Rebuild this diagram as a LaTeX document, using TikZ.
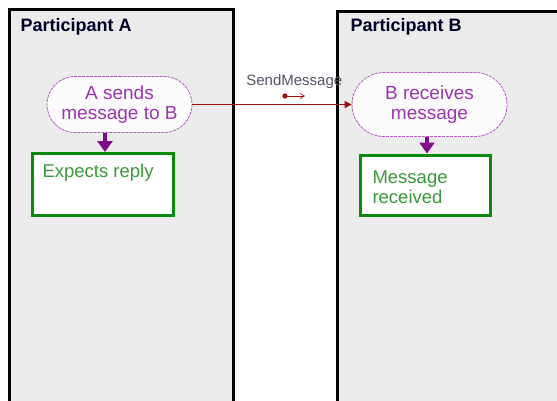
\documentclass[tikz,border=0pt]{standalone}
\usepackage{fontspec}
\setmainfont{Liberation Sans}
\usetikzlibrary{arrows.meta,shapes.misc}
\definecolor{panelfill}{HTML}{EBEBEB}
\definecolor{actborder}{HTML}{B25CC0}
\definecolor{acttext}{HTML}{9B35B0}
\definecolor{boxgreen}{HTML}{0A8A0A}
\definecolor{textgreen}{HTML}{3A9A3A}
\definecolor{flowpurple}{HTML}{7F0A8A}
\definecolor{msgred}{HTML}{991111}
\definecolor{labelgray}{HTML}{555566}
\tikzset{
  panel/.style={draw=black, line width=3pt, fill=panelfill},
  paneltitle/.style={anchor=base west, font=\bfseries\fontsize{18}{20}\selectfont, text=black!85!blue},
  activity/.style={draw=actborder, dashed, dash pattern=on 3pt off 1pt, line width=0.8pt, fill=white!97!gray,
    rounded rectangle, minimum width=#1, minimum height=56pt, inner sep=0pt, align=center,
    text=acttext, font=\fontsize{19}{19.5}\selectfont},
  notebox/.style={draw=boxgreen, line width=3pt, fill=white, minimum width=#1, minimum height=62pt, inner sep=0pt},
  notetext/.style={anchor=base west, align=left, text=textgreen, font=\fontsize{18.5}{20}\selectfont},
  flow/.style={draw=flowpurple, line width=4pt, -{Triangle[length=11pt,width=15pt]}},
  msg/.style={draw=msgred, line width=1pt, -{Triangle[length=7pt,width=7pt]}},
}
\begin{document}
\begin{tikzpicture}[x=1pt,y=-1pt]
\useasboundingbox (0,0) rectangle (557,400);
\fill[white] (0,0) rectangle (557,400);
% panels
\path[panel] (9.5,9) rectangle (233.5,402);
\path[panel] (337,11) rectangle (562,402);
\node[paneltitle] (titleA) at (17,31) {Participant A};
\node[paneltitle] (titleB) at (347,31) {Participant B};
% activities
\node[activity=145pt] (asend) at (119.5,104.5) {A sends\\message to B};
\node[activity=155pt, minimum height=64pt] (brecv) at (429.5,104.5) {B receives\\message};
% notes
\node[notebox=141pt] (expects) at (102.5,184.5) {};
\node[notetext] (expectstext) at (39,177) {Expects reply};
\node[notebox=130pt, minimum height=60pt] (received) at (425,185) {};
\node[notetext] (receivedtext) at (369,203) {Message\\received};
% flows
\draw[flow] (asend.south -| 105,0) -- (expects.north -| 105,0);
\draw[flow] (brecv.south -| 427,0) -- (received.north -| 427,0);
% message
\draw[msg] (asend.east) -- (brecv.west)
  node[pos=0.64, above=12pt, text=labelgray, font=\fontsize{15}{16}\selectfont] (msglabel) {SendMessage};
\coordinate (icona) at (285,96);
\coordinate (iconb) at (305,96);
\fill[msgred] (icona) circle (2.6pt);
\draw[msgred, line width=0.7pt, -{Straight Barb[length=4pt,width=5pt]}] (icona) -- (iconb);
\end{tikzpicture}
\end{document}
